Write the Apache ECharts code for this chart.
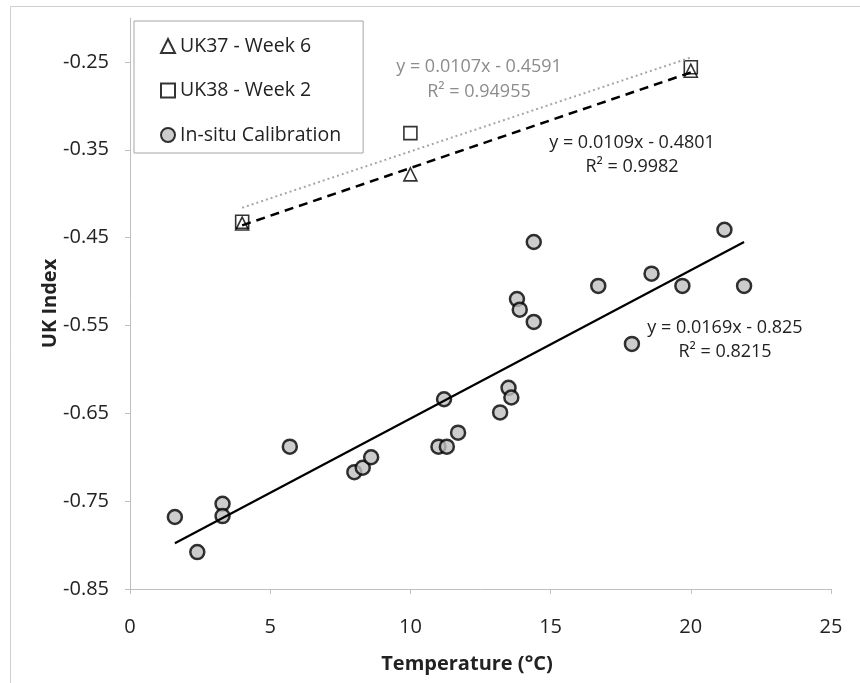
<!DOCTYPE html>
<html>
<head>
<meta charset="utf-8">
<script src="https://cdn.jsdelivr.net/npm/echarts@6/dist/echarts.min.js"></script>
<style>
html,body{margin:0;padding:0;background:#fff;}
#chart{width:860px;height:683px;}
</style>
</head>
<body>
<div id="chart"></div>
<script>
// ---- data ----
const insituX = [1.6, 2.4, 3.3, 3.3, 5.7, 8.0, 8.3, 8.6, 11.0, 11.2, 11.3, 11.7, 13.2, 13.5, 13.6, 13.8, 13.9, 14.4, 14.4, 16.7, 17.9, 18.6, 19.7, 21.2, 21.9];
const insituY = [-0.768, -0.808, -0.753, -0.767, -0.688, -0.717, -0.712, -0.700, -0.688, -0.634, -0.688, -0.672, -0.649, -0.621, -0.632, -0.520, -0.532, -0.546, -0.455, -0.505, -0.571, -0.491, -0.505, -0.441, -0.505];
const uk37X = [4, 10, 20];
const uk37Y = [-0.434, -0.378, -0.260];
const uk38X = [4, 10, 20];
const uk38Y = [-0.432, -0.331, -0.256];
const insituTrendX = [1.6, 21.9];
const insituTrendY = [-0.798, -0.455];
const uk37TrendX = [4, 20];
const uk37TrendY = [-0.436, -0.262];
const uk38TrendX = [4, 20];
const uk38TrendY = [-0.416, -0.245];
const yTickValues = [-0.85, -0.75, -0.65, -0.55, -0.45, -0.35, -0.25];
const seriesNames = ['UK37 - Week 6', 'UK38 - Week 2', 'In-situ Calibration'];
const eqUK38 = ['y = 0.0107x - 0.4591', 'R² = 0.94955'];
const eqUK37 = ['y = 0.0109x - 0.4801', 'R² = 0.9982'];
const eqInsitu = ['y = 0.0169x - 0.825', 'R² = 0.8215'];

const zip = (xs, ys) => xs.map((x, i) => [x, ys[i]]);
const FONT = '"Open Sans"';

const chart = echarts.init(document.getElementById('chart'), null, {renderer: 'canvas'});
const option = {
  backgroundColor: '#fff',
  animation: false,
  textStyle: {fontFamily: FONT},
  grid: {left: 130, right: 29, top: 18, bottom: 94, containLabel: false},
  legend: {
    orient: 'vertical',
    left: 134, top: 21,
    padding: [15, 22, 8, 26],
    itemGap: 24.5,
    itemWidth: 14, itemHeight: 14,
    backgroundColor: '#fff',
    borderColor: '#a6a6a6', borderWidth: 1,
    textStyle: {fontFamily: FONT, fontSize: 19.5, color: '#222', lineHeight: 20},
    data: [
      {name: seriesNames[0]},
      {name: seriesNames[1]},
      {name: seriesNames[2]}
    ]
  },
  xAxis: {
    type: 'value', min: 0, max: 25, interval: 5,
    name: 'Temperature (°C)', nameLocation: 'middle', nameGap: 65, nameMoveOverlap: false,
    nameTextStyle: {fontFamily: FONT, fontSize: 20, fontWeight: 'bold', color: '#222', padding: [0, 27, 0, 0]},
    axisLine: {lineStyle: {color: '#bfbfbf', width: 1}},
    axisTick: {show: true, inside: false, length: 5, lineStyle: {color: '#bfbfbf'}},
    axisLabel: {fontFamily: FONT, fontSize: 20, color: '#222', margin: 28},
    splitLine: {show: false}
  },
  yAxis: {
    type: 'value', min: -0.85, max: -0.2,
    name: 'UK Index', nameLocation: 'middle', nameGap: 70, nameRotate: 90, nameMoveOverlap: false,
    nameTextStyle: {fontFamily: FONT, fontSize: 20, fontWeight: 'bold', color: '#222'},
    axisLine: {show: true, lineStyle: {color: '#bfbfbf', width: 1}},
    axisTick: {show: true, inside: false, length: 5, lineStyle: {color: '#bfbfbf'}, customValues: yTickValues},
    axisLabel: {fontFamily: FONT, fontSize: 20, color: '#222', margin: 21, customValues: yTickValues,
      formatter: v => v.toFixed(2)},
    splitLine: {show: false}
  },
  series: [
    {
      name: seriesNames[0], type: 'scatter', symbol: 'triangle', symbolSize: 13,
      itemStyle: {color: 'rgba(255,255,255,0)', borderColor: '#000', borderWidth: 1.6},
      data: zip(uk37X, uk37Y), z: 4
    },
    {
      name: seriesNames[1], type: 'scatter', symbol: 'rect', symbolSize: 13,
      itemStyle: {color: 'rgba(255,255,255,0)', borderColor: '#000', borderWidth: 1.6},
      data: zip(uk38X, uk38Y), z: 4
    },
    {
      name: seriesNames[2], type: 'scatter', symbol: 'circle', symbolSize: 14,
      itemStyle: {color: '#bfbfbf', borderColor: '#000', borderWidth: 2.5},
      data: zip(insituX, insituY), z: 3
    },
    {
      name: 'insituTrend', type: 'line', showSymbol: false, symbol: 'none',
      lineStyle: {color: '#000', width: 2.2}, data: zip(insituTrendX, insituTrendY), z: 5, silent: true
    },
    {
      name: 'uk37Trend', type: 'line', showSymbol: false, symbol: 'none',
      lineStyle: {color: '#000', width: 2.5, type: [9, 6]}, data: zip(uk37TrendX, uk37TrendY), z: 5, silent: true
    },
    {
      name: 'uk38Trend', type: 'line', showSymbol: false, symbol: 'none',
      lineStyle: {color: '#a6a6a6', width: 2, type: [2, 3]}, data: zip(uk38TrendX, uk38TrendY), z: 5, silent: true
    }
  ],
  graphic: [
    {type: 'rect', left: 8, top: 4, z: -10, silent: true,
      shape: {width: 900, height: 800}, style: {fill: 'none', stroke: '#cfcfcf', lineWidth: 1}},
    {type: 'text', x: 479, y: 67, style: {text: eqUK38[0], font: '18px ' + FONT, fill: '#8c8c8c', align: 'center', verticalAlign: 'middle'}},
    {type: 'text', x: 479, y: 92, style: {text: eqUK38[1], font: '18px ' + FONT, fill: '#8c8c8c', align: 'center', verticalAlign: 'middle'}},
    {type: 'text', x: 632, y: 143, style: {text: eqUK37[0], font: '18px ' + FONT, fill: '#222', align: 'center', verticalAlign: 'middle'}},
    {type: 'text', x: 632, y: 167, style: {text: eqUK37[1], font: '18px ' + FONT, fill: '#222', align: 'center', verticalAlign: 'middle'}},
    {type: 'text', x: 725, y: 328, style: {text: eqInsitu[0], font: '18px ' + FONT, fill: '#222', align: 'center', verticalAlign: 'middle'}},
    {type: 'text', x: 725, y: 352, style: {text: eqInsitu[1], font: '18px ' + FONT, fill: '#222', align: 'center', verticalAlign: 'middle'}}
  ]
};
chart.setOption(option);
</script>
</body>
</html>
